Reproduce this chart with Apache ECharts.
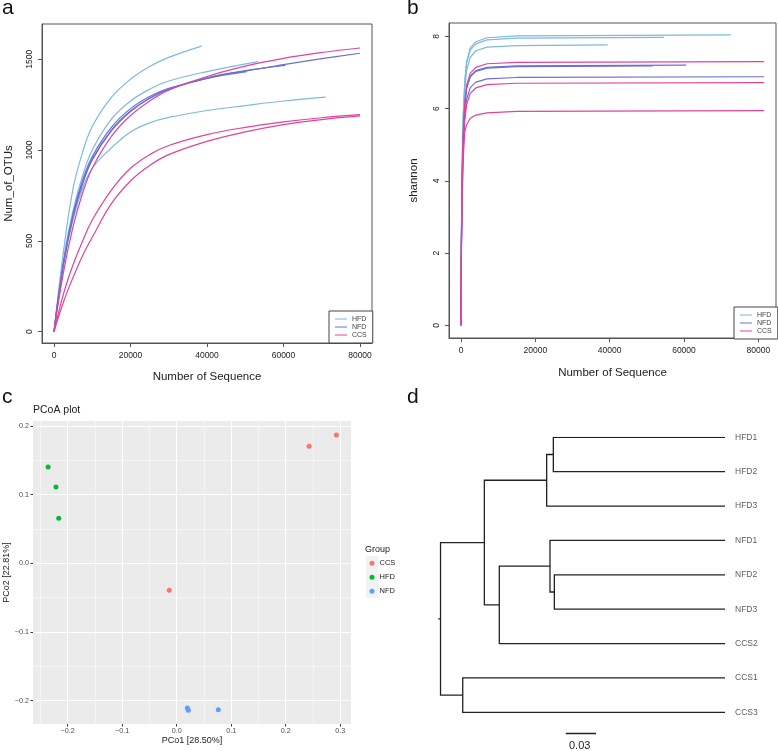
<!DOCTYPE html>
<html>
<head>
<meta charset="utf-8">
<script src="https://cdn.jsdelivr.net/npm/echarts@6/dist/echarts.min.js"></script>
<style>
  html, body { margin: 0; padding: 0; background: #fff; }
  #chart { width: 778px; height: 751px; }
</style>
</head>
<body>
<div id="chart"></div>
<script>
const groups = ['HFD', 'NFD', 'CCS']
const groupColors = { HFD: '#7DB9E0', NFD: '#6A6FD8', CCS: '#E0449A' }

// a: rarefaction, [number of sequences, OTUs]
const otuHFD1 = [[0, 0], [2500, 445], [5000, 790], [7500, 990], [10000, 1130], [15000, 1290], [20000, 1390], [25000, 1460], [30000, 1510], [38600, 1572]]
const otuHFD2 = [[0, 0], [2500, 400], [5000, 670], [7500, 860], [10000, 1000], [15000, 1170], [20000, 1270], [25000, 1335], [30000, 1380], [40000, 1432], [53400, 1487]]
const otuHFD3 = [[0, 0], [2500, 370], [5000, 620], [7500, 790], [10000, 900], [15000, 1012], [20000, 1100], [25000, 1150], [30000, 1180], [40000, 1218], [50000, 1245], [60000, 1270], [71000, 1291]]
const otuNFD1 = [[0, 0], [2500, 380], [5000, 640], [7500, 820], [10000, 950], [15000, 1110], [20000, 1215], [25000, 1285], [30000, 1335], [40000, 1395], [50000, 1435], [60000, 1470], [70000, 1503], [80000, 1533]]
const otuNFD2 = [[0, 0], [2500, 385], [5000, 650], [7500, 835], [10000, 965], [15000, 1125], [20000, 1228], [25000, 1295], [30000, 1340], [40000, 1395], [50400, 1432]]
const otuNFD3 = [[0, 0], [2500, 375], [5000, 635], [7500, 815], [10000, 945], [15000, 1105], [20000, 1212], [25000, 1285], [30000, 1335], [40000, 1398], [50000, 1437], [60500, 1466]]
const otuCCS1 = [[0, 0], [2500, 330], [5000, 580], [7500, 765], [10000, 900], [15000, 1075], [20000, 1190], [25000, 1270], [30000, 1330], [40000, 1405], [50000, 1462], [60000, 1505], [70000, 1537], [80000, 1562]]
const otuCCS2 = [[0, 0], [2500, 210], [5000, 370], [7500, 500], [10000, 615], [15000, 780], [20000, 900], [25000, 975], [30000, 1025], [40000, 1085], [50000, 1125], [60000, 1155], [70000, 1178], [80000, 1195]]
const otuCCS3 = [[0, 0], [2500, 165], [5000, 300], [7500, 420], [10000, 520], [15000, 705], [20000, 830], [25000, 915], [30000, 975], [40000, 1048], [50000, 1100], [60000, 1140], [70000, 1168], [80000, 1188]]
const otuCurves = [
  ['HFD', otuHFD1], ['HFD', otuHFD2], ['HFD', otuHFD3],
  ['NFD', otuNFD1], ['NFD', otuNFD2], ['NFD', otuNFD3],
  ['CCS', otuCCS1], ['CCS', otuCCS2], ['CCS', otuCCS3]
]

// b: shannon, read at these sequence counts and at each sample's last point
const shannonSteps = [0, 100, 300, 600, 1000, 1500, 2500, 4000, 7000, 15000]
const shannonHFD1 = { end: 72600, y: [0, 2.4, 4.4, 5.8, 6.75, 7.3, 7.68, 7.85, 7.96, 8.01, 8.04] }
const shannonHFD2 = { end: 54650, y: [0, 2.4, 4.4, 5.75, 6.7, 7.25, 7.62, 7.79, 7.9, 7.95, 7.97] }
const shannonHFD3 = { end: 39490, y: [0, 2.3, 4.3, 5.6, 6.5, 7.05, 7.42, 7.6, 7.7, 7.74, 7.76] }
const shannonNFD1 = { end: 81570, y: [0, 2.1, 3.8, 5.0, 5.8, 6.25, 6.58, 6.73, 6.82, 6.86, 6.88] }
const shannonNFD2 = { end: 51600, y: [0, 2.2, 4.0, 5.25, 6.05, 6.55, 6.88, 7.03, 7.12, 7.16, 7.18] }
const shannonNFD3 = { end: 60570, y: [0, 2.2, 4.0, 5.25, 6.07, 6.57, 6.9, 7.05, 7.14, 7.18, 7.2] }
const shannonCCS1 = { end: 81570, y: [0, 2.2, 4.0, 5.3, 6.15, 6.65, 6.98, 7.14, 7.24, 7.28, 7.3] }
const shannonCCS2 = { end: 81570, y: [0, 2.0, 3.7, 4.9, 5.65, 6.1, 6.42, 6.57, 6.66, 6.7, 6.72] }
const shannonCCS3 = { end: 81570, y: [0, 1.8, 3.4, 4.6, 5.35, 5.55, 5.73, 5.82, 5.88, 5.92, 5.94] }
const shannonCurves = [
  ['HFD', shannonHFD1], ['HFD', shannonHFD2], ['HFD', shannonHFD3],
  ['NFD', shannonNFD1], ['NFD', shannonNFD2], ['NFD', shannonNFD3],
  ['CCS', shannonCCS1], ['CCS', shannonCCS2], ['CCS', shannonCCS3]
]
const seqTicks = [0, 20000, 40000, 60000, 80000]
const otuTicks = [0, 500, 1000, 1500]
const shannonTicks = [0, 2, 4, 6, 8]

// c: PCoA, [PCo1, PCo2]
const pcoaGroups = ['CCS', 'HFD', 'NFD']
const pcoaColors = ['#F8766D', '#00BA38', '#619CFF']
const pcoaCCS = [[0.243, 0.1705], [0.293, 0.187], [-0.0136, -0.039]]
const pcoaHFD = [[-0.236, 0.1403], [-0.2215, 0.1112], [-0.2165, 0.0656]]
const pcoaNFD = [[0.0195, -0.2106], [0.0213, -0.2139], [0.0763, -0.2133]]
const pcoaTicks = [-0.2, -0.1, 0, 0.1, 0.2, 0.3]
const pcoaYTicks = [-0.2, -0.1, 0, 0.1, 0.2]

// d: clustering tree, node = [name, child, child, distance from root]
const treeLeaves = ['HFD1', 'HFD2', 'HFD3', 'NFD1', 'NFD2', 'NFD3', 'CCS2', 'CCS1', 'CCS3']
const leafDepth = 0.2817
const treeNodes = [
  ['h12', 'HFD1', 'HFD2', 0.1117],
  ['hfd', 'h12', 'HFD3', 0.1051],
  ['n23', 'NFD2', 'NFD3', 0.1127],
  ['nfd', 'NFD1', 'n23', 0.1084],
  ['nc', 'nfd', 'CCS2', 0.0582],
  ['left', 'hfd', 'nc', 0.0434],
  ['ccs', 'CCS1', 'CCS3', 0.022],
  ['root', 'left', 'ccs', 0]
]
const rootStub = -0.0022
const scaleBar = [0.124, 0.154]

const font = 'Liberation Sans, Arial, sans-serif'
const plain = v => String(v)
const signed = v => (v < 0 ? '\u2212' : '') + Math.abs(v).toFixed(1)

// tree segments
const pos = {}
treeLeaves.forEach((n, i) => { pos[n] = [leafDepth, i] })
const treeLines = []
treeNodes.forEach(([name, c1, c2, d]) => {
  const a = pos[c1]
  const b = pos[c2]
  pos[name] = [d, (a[1] + b[1]) / 2]
  treeLines.push({ coords: [a, [d, a[1]], [d, b[1]], b] })
})
treeLines.push({ coords: [[rootStub, pos.root[1]], pos.root] })

function baseAxis (extra, ticks, rotate) {
  return Object.assign({
    type: 'value',
    splitLine: { show: false },
    axisLine: { show: true, onZero: false, lineStyle: { color: '#555', width: 1 } },
    axisTick: { show: true, length: 4, customValues: ticks, lineStyle: { color: '#555' } },
    axisLabel: { customValues: ticks, rotate: rotate || 0, formatter: plain, fontSize: 8.5, color: '#222', fontFamily: font, margin: 8 },
    nameLocation: 'middle',
    nameTextStyle: { fontSize: 11.5, color: '#222', fontFamily: font }
  }, extra)
}

const series = []
otuCurves.forEach(([g, d]) => {
  series.push({
    type: 'line', name: g, xAxisIndex: 0, yAxisIndex: 0, data: d,
    symbol: 'none', smooth: 0.4, silent: true,
    lineStyle: { color: groupColors[g], width: 1.2 }, itemStyle: { color: groupColors[g] }
  })
})
shannonCurves.forEach(([g, c]) => {
  const xs = shannonSteps.concat([c.end])
  series.push({
    type: 'line', name: g, xAxisIndex: 1, yAxisIndex: 1,
    data: xs.map((x, i) => [x, c.y[i]]),
    symbol: 'none', silent: true,
    lineStyle: { color: groupColors[g], width: 1.2 }, itemStyle: { color: groupColors[g] }
  })
})
;[pcoaCCS, pcoaHFD, pcoaNFD].forEach((d, i) => {
  series.push({
    type: 'scatter', name: 'p' + pcoaGroups[i], xAxisIndex: 2, yAxisIndex: 2, data: d,
    symbolSize: 5, itemStyle: { color: pcoaColors[i], opacity: 1 }
  })
})
series.push({
  type: 'lines', coordinateSystem: 'cartesian2d', xAxisIndex: 3, yAxisIndex: 3,
  polyline: true, silent: true, data: treeLines,
  lineStyle: { color: '#222', width: 1.3, opacity: 1 }
})
series.push({
  type: 'lines', coordinateSystem: 'cartesian2d', xAxisIndex: 3, yAxisIndex: 3,
  silent: true, data: [{ coords: [[scaleBar[0], 8.61], [scaleBar[1], 8.61]] }],
  lineStyle: { color: '#222', width: 1.3, opacity: 1 }
})
series.push({
  type: 'scatter', xAxisIndex: 3, yAxisIndex: 3, symbolSize: 0, silent: true,
  data: treeLeaves.map((n, i) => ({ name: n, value: [leafDepth, i] })),
  label: { show: true, position: 'right', distance: 10, formatter: '{b}', fontSize: 8.5, color: '#333', fontFamily: font }
})

const lineLegend = {
  data: groups, orient: 'vertical', icon: 'rect', itemWidth: 12, itemHeight: 1, itemGap: 0,
  padding: [4, 6, 4, 6], borderColor: '#444', borderWidth: 1, borderRadius: 0, backgroundColor: '#fff',
  selectedMode: false, textStyle: { fontSize: 7, lineHeight: 8, color: '#444', fontFamily: font }
}

const chart = echarts.init(document.getElementById('chart'))
chart.setOption({
  animation: false,
  grid: [
    { left: 42, top: 24, width: 330, height: 319, show: true, borderColor: '#555', borderWidth: 1 },
    { left: 449, top: 23, width: 327, height: 315, show: true, borderColor: '#555', borderWidth: 1 },
    { left: 33, top: 421, width: 318, height: 303, show: true, borderWidth: 0, backgroundColor: '#EBEBEB' },
    { left: 437.5, top: 437.3, width: 287.5, height: 309.4 }
  ],
  xAxis: [
    baseAxis({ gridIndex: 0, min: -3137, max: 83137, name: 'Number of Sequence', nameGap: 28 }, seqTicks),
    baseAxis({ gridIndex: 1, min: -3229, max: 84763, name: 'Number of Sequence', nameGap: 29 }, seqTicks),
    {
      type: 'value', gridIndex: 2, min: -0.2637, max: 0.3198,
      name: 'PCo1 [28.50%]', nameLocation: 'middle', nameGap: 12,
      nameTextStyle: { fontSize: 9, color: '#222', fontFamily: font },
      axisLine: { show: false, onZero: false },
      axisTick: { show: true, length: 2.5, customValues: pcoaTicks, lineStyle: { color: '#333' } },
      axisLabel: { customValues: pcoaTicks, fontSize: 7.2, color: '#4D4D4D', fontFamily: font, margin: 3.5, formatter: signed },
      splitLine: { show: true, lineStyle: { color: '#fff', width: 1 } },
      minorTick: { show: false, splitNumber: 2 },
      minorSplitLine: { show: true, lineStyle: { color: '#fff', width: 0.5 } }
    },
    { type: 'value', gridIndex: 3, min: rootStub - 0.0008, max: leafDepth, show: false }
  ],
  yAxis: [
    baseAxis({ gridIndex: 0, min: -62, max: 1694, name: 'Num_of_OTUs', nameGap: 27 }, otuTicks, 90),
    baseAxis({ gridIndex: 1, min: -0.352, max: 8.368, name: 'shannon', nameGap: 29 }, shannonTicks, 90),
    {
      type: 'value', gridIndex: 2, min: -0.2339, max: 0.2073,
      name: 'PCo2 [22.81%]', nameLocation: 'middle', nameGap: 21,
      nameTextStyle: { fontSize: 9, color: '#222', fontFamily: font },
      axisLine: { show: false, onZero: false },
      axisTick: { show: true, length: 2.5, customValues: pcoaYTicks, lineStyle: { color: '#333' } },
      axisLabel: { customValues: pcoaYTicks, fontSize: 7.2, color: '#4D4D4D', fontFamily: font, margin: 4, formatter: signed },
      splitLine: { show: true, lineStyle: { color: '#fff', width: 1 } },
      minorTick: { show: false, splitNumber: 2 },
      minorSplitLine: { show: true, lineStyle: { color: '#fff', width: 0.5 } }
    },
    { type: 'value', gridIndex: 3, min: 0, max: 9, inverse: true, show: false }
  ],
  legend: [
    Object.assign({ left: 329, top: 311 }, lineLegend),
    Object.assign({ left: 734, top: 307 }, lineLegend),
    {
      data: pcoaGroups.map(g => 'p' + g), formatter: n => n.slice(1),
      left: 369.5, top: 556.3, orient: 'vertical', icon: 'circle', itemWidth: 5, itemHeight: 5, itemGap: 0,
      padding: 0, selectedMode: false,
      textStyle: { fontSize: 7.5, lineHeight: 14, color: '#222', fontFamily: font }
    }
  ],
  graphic: [
    { type: 'rect', shape: { x: 366, y: 556, width: 12.5, height: 42 }, style: { fill: '#F2F2F2' }, z: -1 },
    { type: 'text', left: 2, top: -2, style: { text: 'a', fontSize: 21, fill: '#111', fontFamily: font } },
    { type: 'text', left: 407, top: -2, style: { text: 'b', fontSize: 21, fill: '#111', fontFamily: font } },
    { type: 'text', left: 2, top: 387, style: { text: 'c', fontSize: 21, fill: '#111', fontFamily: font } },
    { type: 'text', left: 407, top: 387, style: { text: 'd', fontSize: 21, fill: '#111', fontFamily: font } },
    { type: 'text', left: 33, top: 405, style: { text: 'PCoA plot', fontSize: 10.5, fill: '#222', fontFamily: font } },
    { type: 'text', left: 365, top: 545, style: { text: 'Group', fontSize: 9, fill: '#222', fontFamily: font } },
    { type: 'text', left: 569, top: 740, style: { text: '0.03', fontSize: 11, fill: '#222', fontFamily: font } }
  ],
  series
})
</script>
</body>
</html>
